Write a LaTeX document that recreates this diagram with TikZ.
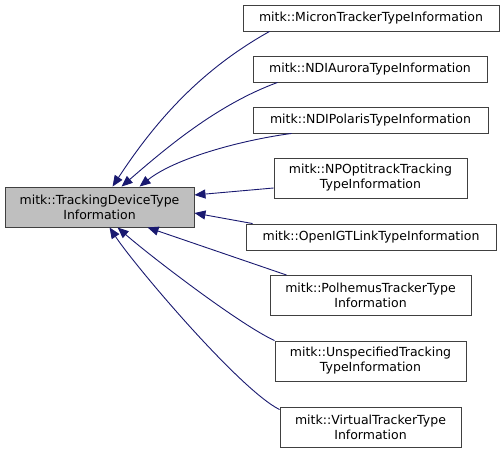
\documentclass[tikz,border=0pt]{standalone}
\usepackage{fontspec}
\setmainfont{DejaVu Sans}
\usetikzlibrary{arrows.meta}
\definecolor{edgeblue}{RGB}{25,25,112}
\definecolor{boxline}{RGB}{64,64,64}
\definecolor{mainfill}{RGB}{191,191,191}
\tikzset{
  cls/.style={draw=boxline, line width=0.9pt, fill=white, inner sep=0pt, align=center,
    font=\fontsize{12.5}{15}\selectfont},
  inh/.style={draw=edgeblue, line width=0.9pt, -{Triangle[length=11pt,width=9pt]}},
}
\begin{document}
\begin{tikzpicture}[x=1pt,y=-1pt]
\useasboundingbox (0,0) rectangle (504,453);
\node[cls, fill=mainfill, minimum width=189pt, minimum height=40pt] (main) at (99.5,207) {mitk::TrackingDeviceType\\Information};
\node[cls, minimum width=256pt, minimum height=26pt] (n1) at (371,18) {mitk::MicronTrackerTypeInformation};
\node[cls, minimum width=234pt, minimum height=26pt] (n2) at (370,69) {mitk::NDIAuroraTypeInformation};
\node[cls, minimum width=235pt, minimum height=26pt] (n3) at (370.5,120) {mitk::NDIPolarisTypeInformation};
\node[cls, minimum width=193pt, minimum height=40pt] (n4) at (370.5,178) {mitk::NPOptitrackTracking\\TypeInformation};
\node[cls, minimum width=250pt, minimum height=26pt] (n5) at (371,237) {mitk::OpenIGTLinkTypeInformation};
\node[cls, minimum width=201pt, minimum height=40pt] (n6) at (370.5,295.5) {mitk::PolhemusTrackerType\\Information};
\node[cls, minimum width=191pt, minimum height=40pt] (n7) at (370.5,361) {mitk::UnspecifiedTracking\\TypeInformation};
\node[cls, minimum width=181pt, minimum height=40pt] (n8) at (370.5,427) {mitk::VirtualTrackerType\\Information};
% edges
\draw[inh] ([xshift=27pt]n1.south west) .. controls +(-70,39) and +(42,-64) .. ([xshift=108pt]main.north west);
\draw[inh] ([xshift=25pt]n2.south west) .. controls +(-60,22) and +(45,-39) .. ([xshift=117pt]main.north west);
\draw[inh] ([xshift=39pt]n3.south west) .. controls +(-52,7) and +(35,-28) .. ([xshift=135pt]main.north west);
\draw[inh] ([yshift=-10pt]n4.west) -- ([yshift=12pt]main.east);
\draw[inh] ([xshift=7pt]n5.north west) -- ([yshift=-6pt]main.east);
\draw[inh] ([xshift=17pt]n6.north west) -- ([xshift=143pt]main.south west);
\draw[inh] (n7.north west) .. controls +(-35,-16) and +(32,28) .. ([xshift=113pt]main.south west);
\draw[inh] ([yshift=-3pt]n8.north west) .. controls +(-40,-20) and +(25,38) .. ([xshift=105pt]main.south west);
\end{tikzpicture}
\end{document}
